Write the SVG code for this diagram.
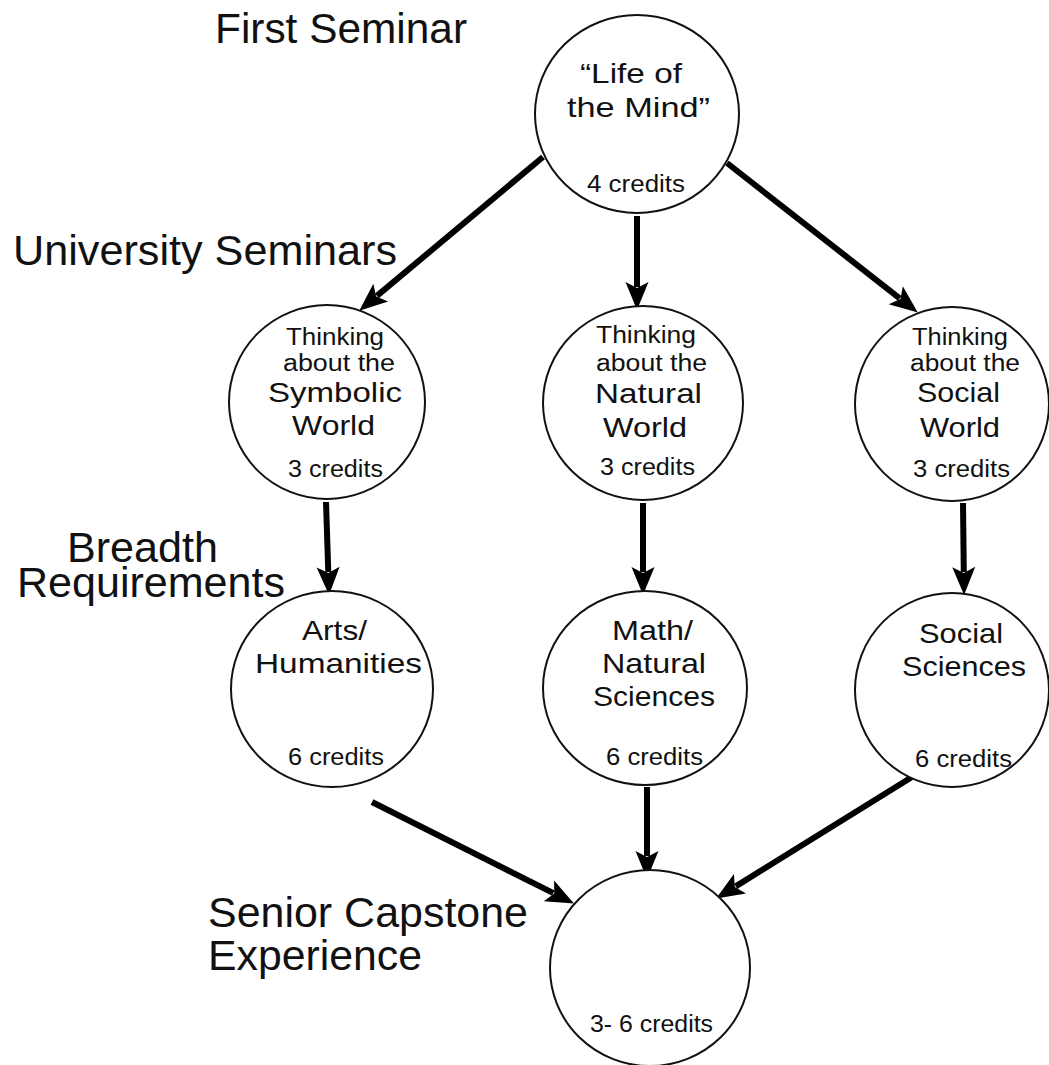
<svg xmlns="http://www.w3.org/2000/svg" width="1049" height="1065" viewBox="0 0 1049 1065">
<defs>
<style>
text{font-family:"Liberation Sans","Open Sans",sans-serif;fill:#111;text-anchor:middle}
.lbl{font-size:42px;text-anchor:start}
.big{font-size:28px}
.mid{font-size:23.5px}
.sm{font-size:23px}
.node{fill:#fff;stroke:#111;stroke-width:2}
.edge{stroke:#000;stroke-width:6;fill:none}
</style>
<marker id="ah" markerUnits="userSpaceOnUse" viewBox="-6 -12 30 24" markerWidth="30" markerHeight="24" refX="0" refY="0" orient="auto">
<path d="M23,0 L-5,-11.5 L1,0 L-5,11.5 Z" fill="#000"/>
</marker>
</defs>
<rect width="1049" height="1065" fill="#fff"/>
<g id="labels">
<text class="lbl" x="215" y="43" textLength="252" lengthAdjust="spacingAndGlyphs">First Seminar</text>
<text class="lbl" x="13" y="265" textLength="384" lengthAdjust="spacingAndGlyphs">University Seminars</text>
<text class="lbl" x="67" y="562" textLength="151" lengthAdjust="spacingAndGlyphs">Breadth</text>
<text class="lbl" x="17" y="597" textLength="268" lengthAdjust="spacingAndGlyphs">Requirements</text>
<text class="lbl" x="208" y="927" textLength="320" lengthAdjust="spacingAndGlyphs">Senior Capstone</text>
<text class="lbl" x="208" y="970" textLength="214" lengthAdjust="spacingAndGlyphs">Experience</text>
</g>
<g id="connectors">
<line class="edge" x1="543" y1="157" x2="376.9" y2="295.9" marker-end="url(#ah)"/>
<line class="edge" x1="637" y1="216" x2="637" y2="287" marker-end="url(#ah)"/>
<line class="edge" x1="727" y1="163" x2="899.7" y2="298.4" marker-end="url(#ah)"/>
<line class="edge" x1="326" y1="502" x2="328.3" y2="572" marker-end="url(#ah)"/>
<line class="edge" x1="643" y1="503" x2="643" y2="572" marker-end="url(#ah)"/>
<line class="edge" x1="963" y1="503" x2="963.8" y2="572" marker-end="url(#ah)"/>
<line class="edge" x1="372" y1="802" x2="553.4" y2="893.1" marker-end="url(#ah)"/>
<line class="edge" x1="647" y1="787" x2="647" y2="856" marker-end="url(#ah)"/>
<line class="edge" x1="912" y1="777" x2="735.7" y2="886.4" marker-end="url(#ah)"/>
</g>
<g id="node-life">
<ellipse class="node" cx="637" cy="114" rx="102" ry="99"/>
<text class="big" x="631" y="83" textLength="102" lengthAdjust="spacingAndGlyphs">“Life of</text>
<text class="big" x="638.5" y="117" textLength="143" lengthAdjust="spacingAndGlyphs">the Mind”</text>
<text class="sm" x="636" y="192" textLength="98" lengthAdjust="spacingAndGlyphs">4 credits</text>
</g>
<g id="node-symbolic">
<ellipse class="node" cx="327" cy="402" rx="98" ry="97"/>
<text class="mid" x="335" y="345" textLength="98" lengthAdjust="spacingAndGlyphs">Thinking</text>
<text class="mid" x="339" y="371" textLength="112" lengthAdjust="spacingAndGlyphs">about the</text>
<text class="big" x="335" y="402" textLength="134" lengthAdjust="spacingAndGlyphs">Symbolic</text>
<text class="big" x="333.5" y="435" textLength="83" lengthAdjust="spacingAndGlyphs">World</text>
<text class="sm" x="335.5" y="477" textLength="95" lengthAdjust="spacingAndGlyphs">3 credits</text>
</g>
<g id="node-natural">
<ellipse class="node" cx="643" cy="403" rx="100" ry="97"/>
<text class="mid" x="646" y="343" textLength="100" lengthAdjust="spacingAndGlyphs">Thinking</text>
<text class="mid" x="651.5" y="371" textLength="111" lengthAdjust="spacingAndGlyphs">about the</text>
<text class="big" x="648.5" y="403" textLength="107" lengthAdjust="spacingAndGlyphs">Natural</text>
<text class="big" x="645" y="437" textLength="84" lengthAdjust="spacingAndGlyphs">World</text>
<text class="sm" x="647.5" y="475" textLength="95" lengthAdjust="spacingAndGlyphs">3 credits</text>
</g>
<g id="node-social">
<ellipse class="node" cx="952" cy="404" rx="97" ry="97"/>
<text class="mid" x="960" y="345" textLength="96" lengthAdjust="spacingAndGlyphs">Thinking</text>
<text class="mid" x="965" y="371" textLength="110" lengthAdjust="spacingAndGlyphs">about the</text>
<text class="big" x="958.5" y="402" textLength="83" lengthAdjust="spacingAndGlyphs">Social</text>
<text class="big" x="960" y="437" textLength="80" lengthAdjust="spacingAndGlyphs">World</text>
<text class="sm" x="961.5" y="477" textLength="97" lengthAdjust="spacingAndGlyphs">3 credits</text>
</g>
<g id="node-arts">
<ellipse class="node" cx="332" cy="689" rx="101" ry="98"/>
<text class="big" x="334.5" y="640" textLength="65" lengthAdjust="spacingAndGlyphs">Arts/</text>
<text class="big" x="338.5" y="673" textLength="167" lengthAdjust="spacingAndGlyphs">Humanities</text>
<text class="sm" x="336" y="765" textLength="96" lengthAdjust="spacingAndGlyphs">6 credits</text>
</g>
<g id="node-math">
<ellipse class="node" cx="645" cy="688" rx="102" ry="97"/>
<text class="big" x="652.5" y="640" textLength="81" lengthAdjust="spacingAndGlyphs">Math/</text>
<text class="big" x="654" y="673" textLength="104" lengthAdjust="spacingAndGlyphs">Natural</text>
<text class="big" x="654" y="706" textLength="122" lengthAdjust="spacingAndGlyphs">Sciences</text>
<text class="sm" x="654.5" y="765" textLength="97" lengthAdjust="spacingAndGlyphs">6 credits</text>
</g>
<g id="node-socsci">
<ellipse class="node" cx="952" cy="690" rx="97" ry="97"/>
<text class="big" x="961" y="643" textLength="84" lengthAdjust="spacingAndGlyphs">Social</text>
<text class="big" x="964" y="676" textLength="124" lengthAdjust="spacingAndGlyphs">Sciences</text>
<text class="sm" x="963.5" y="767" textLength="97" lengthAdjust="spacingAndGlyphs">6 credits</text>
</g>
<g id="node-capstone">
<ellipse class="node" cx="650" cy="968" rx="100" ry="98"/>
<text class="sm" x="651.5" y="1032" textLength="123" lengthAdjust="spacingAndGlyphs">3- 6 credits</text>
</g>
</svg>
